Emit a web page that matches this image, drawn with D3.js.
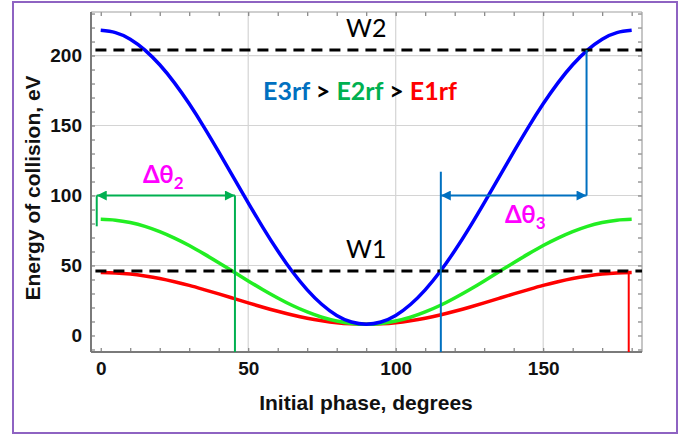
<!DOCTYPE html>
<html>
<head>
<meta charset="utf-8">
<script src="https://cdn.jsdelivr.net/npm/d3@7"></script>
<style>
  body { margin: 0; background: #fff; }
  svg { display: block; }
</style>
</head>
<body>
<div id="chart"></div>
<script>
// Initial phase, degrees (every 5 deg)
const phase = d3.range(0, 181, 5);
// Energy of collision, eV
const e3rf = [218, 216.4, 211.7, 203.9, 193.4, 180.5, 165.5, 148.9, 131.2, 113, 94.8, 77.1, 60.5, 45.5, 32.6, 22.1, 14.3, 9.6, 8,
              9.6, 14.3, 22.1, 32.6, 45.5, 60.5, 77.1, 94.8, 113, 131.2, 148.9, 165.5, 180.5, 193.4, 203.9, 211.7, 216.4, 218];
const e2rf = [83, 82.4, 80.7, 78, 74.2, 69.6, 64.3, 58.3, 52, 45.5, 39, 32.7, 26.8, 21.4, 16.8, 13, 10.3, 8.6, 8,
              8.6, 10.3, 13, 16.8, 21.4, 26.8, 32.7, 39, 45.5, 52, 58.3, 64.3, 69.6, 74.2, 78, 80.7, 82.4, 83];
const e1rf = [45, 44.7, 43.9, 42.5, 40.7, 38.4, 35.8, 32.8, 29.7, 26.5, 23.3, 20.2, 17.3, 14.6, 12.3, 10.5, 9.1, 8.3, 8,
              8.3, 9.1, 10.5, 12.3, 14.6, 17.3, 20.2, 23.3, 26.5, 29.7, 32.8, 35.8, 38.4, 40.7, 42.5, 43.9, 44.7, 45];
// Threshold levels
const thresholds = [{name: "W2", value: 204}, {name: "W1", value: 46}];
// Phase windows
const dTheta2 = [0, 45.5];     // at E = 100, green
const dTheta3 = [115.3, 164.7]; // at E = 100, blue
const xMajor = [0, 50, 100, 150];
const yMajor = [0, 50, 100, 150, 200];

const W = 695, H = 437;
const svg = d3.select("#chart").append("svg").attr("width", W).attr("height", H);

// purple outer frame
svg.append("rect").attr("x", 13).attr("y", 2).attr("width", 664).attr("height", 431)
  .attr("fill", "none").attr("stroke", "#8e63c2").attr("stroke-width", 2);

// plot area
const pLeft = 91, pRight = 642, pTop = 12, pBottom = 352;
const x = d3.scaleLinear().domain([-3.3, 183.5]).range([pLeft, pRight]);
const y = d3.scaleLinear().domain([-11.8, 231.1]).range([pBottom, pTop]);

// gridlines
const grid = svg.append("g").attr("stroke", "#d4d4d4").attr("stroke-width", 1.2);
grid.selectAll(".gx").data(xMajor.filter(d => d > 0)).join("line")
  .attr("x1", d => x(d)).attr("x2", d => x(d)).attr("y1", pTop).attr("y2", pBottom);
grid.selectAll(".gy").data(yMajor.filter(d => d > 0)).join("line")
  .attr("x1", pLeft).attr("x2", pRight).attr("y1", d => y(d)).attr("y2", d => y(d));

// axes: minor ticks every 10 on all four sides, labels at multiples of 50
const xMinor = d3.range(0, 181, 10), yMinor = d3.range(-10, 231, 10);
function styleAxis(g) {
  g.select(".domain").remove();
  g.selectAll(".tick line").attr("stroke", "#808080").attr("stroke-width", 1.2);
  g.selectAll("text").attr("font-family", "Liberation Sans, Arial, sans-serif")
    .attr("font-weight", "bold").attr("font-size", 19).attr("fill", "#111");
}
svg.append("g").attr("transform", `translate(0,${pBottom})`)
  .call(d3.axisBottom(x).tickValues(xMinor).tickSize(-4).tickPadding(10)
    .tickFormat(d => xMajor.includes(d) ? d : ""))
  .call(styleAxis);
svg.append("g").attr("transform", `translate(0,${pTop})`)
  .call(d3.axisTop(x).tickValues(xMinor).tickSize(-4).tickFormat(""))
  .call(styleAxis);
svg.append("g").attr("transform", `translate(${pLeft},0)`)
  .call(d3.axisLeft(y).tickValues(yMinor).tickSize(-4).tickPadding(9)
    .tickFormat(d => yMajor.includes(d) ? d : ""))
  .call(styleAxis);
svg.append("g").attr("transform", `translate(${pRight},0)`)
  .call(d3.axisRight(y).tickValues(yMinor).tickSize(-4).tickFormat(""))
  .call(styleAxis);

// frame
svg.append("line").attr("x1", pLeft).attr("x2", pRight).attr("y1", pTop).attr("y2", pTop)
  .attr("stroke", "#a0a0a0").attr("stroke-width", 1.2);
svg.append("line").attr("x1", pRight).attr("x2", pRight).attr("y1", pTop).attr("y2", pBottom)
  .attr("stroke", "#a0a0a0").attr("stroke-width", 1.2);
svg.append("line").attr("x1", pLeft).attr("x2", pRight).attr("y1", pBottom).attr("y2", pBottom)
  .attr("stroke", "#7a7a7a").attr("stroke-width", 2);
svg.append("line").attr("x1", pLeft).attr("x2", pLeft).attr("y1", pTop).attr("y2", pBottom)
  .attr("stroke", "#7a7a7a").attr("stroke-width", 2);

// axis titles
svg.append("text").attr("x", 366).attr("y", 410).attr("text-anchor", "middle")
  .attr("font-family", "Liberation Sans, Arial, sans-serif").attr("font-weight", "bold")
  .attr("font-size", 21).attr("fill", "#111").text("Initial phase, degrees");
svg.append("text").attr("transform", "translate(40,188) rotate(-90)").attr("text-anchor", "middle")
  .attr("font-family", "Liberation Sans, Arial, sans-serif").attr("font-weight", "bold")
  .attr("font-size", 21).attr("fill", "#111").text("Energy of collision, eV");

// curves
const line = d3.line().x((d, i) => x(phase[i])).y(d => y(d)).curve(d3.curveNatural);
const curves = [{v: e1rf, c: "#ff0000"}, {v: e2rf, c: "#22ee22"}, {v: e3rf, c: "#0000ff"}];
svg.selectAll(".curve").data(curves).join("path")
  .attr("d", d => line(d.v)).attr("fill", "none").attr("stroke", d => d.c).attr("stroke-width", 3.5);

// threshold dashed lines and labels
svg.selectAll(".thr").data(thresholds).join("line")
  .attr("x1", x(-1.8)).attr("x2", pRight).attr("y1", d => y(d.value)).attr("y2", d => y(d.value))
  .attr("stroke", "#000").attr("stroke-width", 3).attr("stroke-dasharray", "11 7");
svg.selectAll(".thrl").data(thresholds).join("text")
  .attr("x", x(90)).attr("y", d => y(d.value) - 13).attr("text-anchor", "middle")
  .attr("font-family", "Lato, sans-serif").attr("font-size", 25).attr("fill", "#000")
  .text(d => d.name);

// arrow markers
const defs = svg.append("defs");
[["g", "#00b050"], ["b", "#0070c0"]].forEach(([id, c]) => {
  defs.append("marker").attr("id", "arr" + id).attr("viewBox", "0 0 10 10")
    .attr("refX", 10).attr("refY", 5).attr("markerWidth", 5.5).attr("markerHeight", 5)
    .attr("markerUnits", "strokeWidth").attr("orient", "auto-start-reverse")
    .append("path").attr("d", "M0,0L10,5L0,10z").attr("fill", c);
});

// green window
const gCol = "#00b050";
svg.append("line").attr("x1", x(dTheta2[0]) - 4).attr("x2", x(dTheta2[0]) - 4)
  .attr("y1", y(100)).attr("y2", y(78)).attr("stroke", gCol).attr("stroke-width", 2);
svg.append("line").attr("x1", x(dTheta2[1])).attr("x2", x(dTheta2[1]))
  .attr("y1", y(100)).attr("y2", pBottom).attr("stroke", gCol).attr("stroke-width", 2);
svg.append("line").attr("x1", x(dTheta2[0]) - 4).attr("x2", x(dTheta2[1]))
  .attr("y1", y(100)).attr("y2", y(100)).attr("stroke", gCol).attr("stroke-width", 2)
  .attr("marker-start", "url(#arrg)").attr("marker-end", "url(#arrg)");

// blue window
const bCol = "#0070c0";
svg.append("line").attr("x1", x(dTheta3[0])).attr("x2", x(dTheta3[0]))
  .attr("y1", y(117)).attr("y2", pBottom).attr("stroke", bCol).attr("stroke-width", 2);
svg.append("line").attr("x1", x(dTheta3[1])).attr("x2", x(dTheta3[1]))
  .attr("y1", y(204)).attr("y2", y(100)).attr("stroke", bCol).attr("stroke-width", 2);
svg.append("line").attr("x1", x(dTheta3[0])).attr("x2", x(dTheta3[1]))
  .attr("y1", y(100)).attr("y2", y(100)).attr("stroke", bCol).attr("stroke-width", 2)
  .attr("marker-start", "url(#arrb)").attr("marker-end", "url(#arrb)");

// red vertical at end of E1rf
svg.append("line").attr("x1", x(179)).attr("x2", x(179))
  .attr("y1", y(46)).attr("y2", pBottom).attr("stroke", "#ff0000").attr("stroke-width", 2);

// delta theta labels
function dLabel(xp, yp, sub) {
  const t = svg.append("text").attr("x", xp).attr("y", yp)
    .attr("font-family", "Lato, sans-serif").attr("font-weight", "bold")
    .attr("font-size", 24).attr("fill", "#ff00ff");
  t.append("tspan").text("Δθ");
  t.append("tspan").attr("dy", 6).attr("font-size", 17).text(sub);
}
dLabel(143, 183, "2");
dLabel(505, 223, "3");

// ordering note
const note = svg.append("text").attr("x", 360).attr("y", 100).attr("text-anchor", "middle")
  .attr("font-family", "Lato, sans-serif").attr("font-weight", "bold").attr("font-size", 25);
note.append("tspan").attr("fill", "#0070c0").text("E3rf");
note.append("tspan").attr("fill", "#000").text(" > ");
note.append("tspan").attr("fill", "#00b050").text("E2rf");
note.append("tspan").attr("fill", "#000").text(" > ");
note.append("tspan").attr("fill", "#ff0000").text("E1rf");
</script>
</body>
</html>
